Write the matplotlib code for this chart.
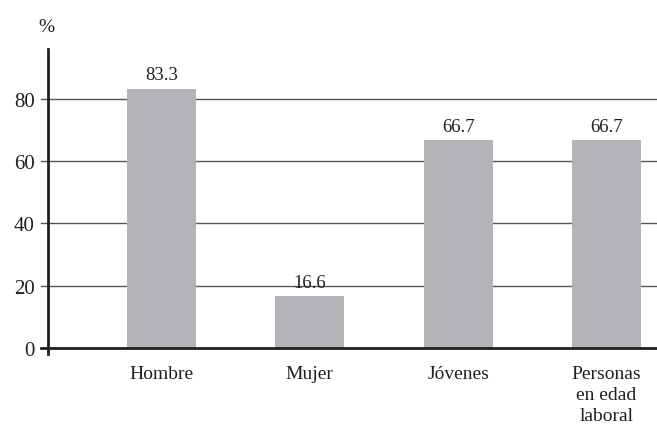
import matplotlib.pyplot as plt

categories = ["Hombre", "Mujer", "Jóvenes", "Personas\nen edad\nlaboral"]
values = [83.3, 16.6, 66.7, 66.7]
yticks = [0, 20, 40, 60, 80]

plt.rcParams['font.family'] = ['Liberation Serif', 'DejaVu Serif']

fig = plt.figure(figsize=(6.57, 4.27), dpi=100)
ax = fig.add_axes([0.0738, 0.168, 0.9262, 0.715])

x = range(len(categories))
bars = ax.bar(x, values, width=0.464, color='#b3b4b8', zorder=2)
ax.bar_label(bars, labels=[f"{v:.1f}" for v in values], padding=4,
             fontsize=13.5, color='#231f20')

# gridlines, reaching a bit left of the axis like ticks
for t in yticks[1:]:
    ax.axhline(t, xmin=-0.012, xmax=1, color='#555555', lw=1,
               clip_on=False, zorder=1)
ax.axhline(0, xmin=-0.012, xmax=1, color='#231f20', lw=2,
           clip_on=False, zorder=3)

ax.set_xlim(-0.76, 3.34)
ax.set_ylim(-2, 96)
ax.set_yticks(yticks)
ax.set_xticks(list(x))
ax.set_xticklabels(categories, fontsize=14, color='#231f20', linespacing=1.3)
ax.tick_params(axis='y', length=0, pad=10, labelsize=15, labelcolor='#231f20')
ax.tick_params(axis='x', length=0, pad=8)

for s in ['top', 'right', 'bottom']:
    ax.spines[s].set_visible(False)
ax.spines['left'].set_linewidth(2)
ax.spines['left'].set_color('#231f20')

ax.text(-0.003, 1.075, "%", transform=ax.transAxes, fontsize=14,
        ha='center', va='center', color='#231f20')

fig.savefig("out.png", dpi=100)
